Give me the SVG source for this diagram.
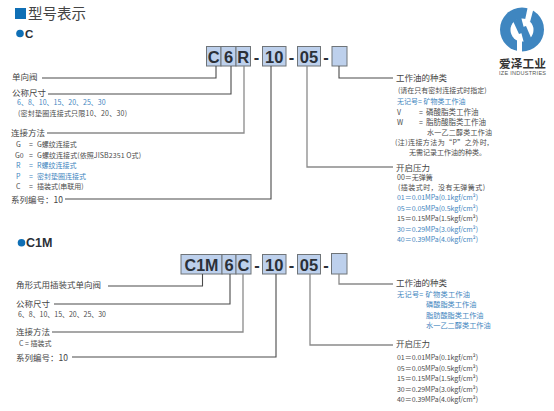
<svg xmlns="http://www.w3.org/2000/svg" width="554" height="411" viewBox="0 0 554 411">
<style>
text{font-family:"Noto Sans CJK SC","Noto Sans CJK JP","Liberation Sans",sans-serif;fill:#3a3a3a}
.s{font-size:7px;fill:#4c4c4c}
.m{font-size:7.5px;fill:#4c4c4c}
.b{font-size:7px;fill:#3f86c0}
.bm{font-size:7.2px;fill:#3f86c0}
.l{font-size:8.5px;fill:#444}
.k{font-family:"Liberation Sans",Arial,sans-serif;font-weight:700;fill:#2b3038;text-anchor:middle;font-size:16.5px}
.box{fill:#bdd0ec;stroke:#6f7478;stroke-width:1}
.c{fill:none;stroke:#4a4a4a;stroke-width:1.1}
.g{stroke:#8a8a8a;stroke-width:1.3}
.h{font-family:"Liberation Sans",Arial,sans-serif;font-weight:700;fill:#2b3038}
</style>
<rect width="554" height="411" fill="#fff"/>
<g id="title"><rect x="15" y="8" width="11" height="11" fill="#0f6fb5"/><text x="28" y="19" font-size="14.500" style="fill:#444">型号表示</text></g>
<g id="head-c"><circle cx="20" cy="33.500" r="3.800" fill="#0f6fb5"/><text class="h" x="25" y="38" font-size="11.500">C</text></g>
<g id="head-c1m"><circle cx="21.500" cy="242.700" r="3.800" fill="#0f6fb5"/><text class="h" x="26" y="247" font-size="12.500">C1M</text></g>
<g id="code-c">
<rect class="box" x="206.500" y="46.500" width="14.500" height="19.500"/><text class="k" x="213.800" y="62.500">C</text>
<rect class="box" x="221" y="46.500" width="15" height="19.500"/><text class="k" x="228.500" y="62.500">6</text>
<rect class="box" x="236" y="46.500" width="14.500" height="19.500"/><text class="k" x="243.300" y="62.500">R</text>
<text class="k" x="256.500" y="62.500">-</text>
<rect class="box" x="262.500" y="46.500" width="23.500" height="19.500"/><text class="k" x="274.300" y="62.500">10</text>
<text class="k" x="291.500" y="62.500">-</text>
<rect class="box" x="297.500" y="46.500" width="23" height="19.500"/><text class="k" x="309" y="62.500">05</text>
<text class="k" x="326" y="62.500">-</text>
<rect class="box" x="332" y="46.500" width="15" height="19.500"/>
</g>
<g id="code-c1m">
<rect class="box" x="181" y="254.500" width="41" height="19.500"/><text class="k" x="201.500" y="270.500" style="font-size:16px">C1M</text>
<rect class="box" x="222" y="254.500" width="14" height="19.500"/><text class="k" x="229" y="270.500">6</text>
<rect class="box" x="236" y="254.500" width="15" height="19.500"/><text class="k" x="243.500" y="270.500">C</text>
<text class="k" x="257" y="270.500">-</text>
<rect class="box" x="262.500" y="254.500" width="23.500" height="19.500"/><text class="k" x="274.300" y="270.500">10</text>
<text class="k" x="291.500" y="270.500">-</text>
<rect class="box" x="297.500" y="254.500" width="23" height="19.500"/><text class="k" x="309" y="270.500">05</text>
<text class="k" x="326" y="270.500">-</text>
<rect class="box" x="331.500" y="253.500" width="15.500" height="20.500"/>
</g>
<g id="connectors">
<path class="c" d="M42 78H216V66"/><path class="c" d="M48 94H231V66"/>
<path class="c g" d="M47 133H244V66"/><path class="c" d="M65 199H271V66"/>
<path class="c" d="M339 66V78H393"/><path class="c g" d="M307 66V167H393"/>
<path class="c" d="M108 286H202.500V274"/><path class="c" d="M54 304H230V274"/>
<path class="c g" d="M52 332H243V274"/><path class="c" d="M72 357H276V274"/>
<path class="c g" d="M339 274V284H393"/><path class="c g" d="M310 274V345H393"/>
</g>
<g id="left-c">
<text class="l" x="12" y="80">单向阀</text><text class="l" x="12" y="96">公称尺寸</text>
<text class="b" x="17" y="105">6、8、10、15、20、25、30</text>
<text class="s" x="18" y="116" textLength="109">(密封垫圈连接式只限10、20、30)</text>
<text class="l" x="11" y="136">连接方法</text>
<text class="s" x="16" y="147">G</text><text class="s" x="29" y="147">=</text><text class="s" x="37" y="147">G螺纹连接式</text>
<text class="s" x="15" y="158">G0</text><text class="s" x="29" y="158">=</text><text class="s" x="37" y="158" textLength="104">G螺纹连接式(依照JISB2351 O式)</text>
<text class="b" x="16" y="168">R</text><text class="b" x="29" y="168">=</text><text class="b" x="37" y="168">R螺纹连接式</text>
<text class="b" x="16" y="179">P</text><text class="b" x="29" y="179">=</text><text class="b" x="37" y="179">密封垫圈连接式</text>
<text class="s" x="16" y="189">C</text><text class="s" x="29" y="189">=</text><text class="s" x="37" y="189">插装式(串联用)</text>
<text class="l" x="11" y="203">系列编号：10</text>
</g>
<g id="right-c">
<text class="l" x="396" y="81">工作油的种类</text>
<text class="s" x="398" y="93">(请在只有密封连接式时指定)</text>
<text class="b" x="397" y="104">无记号= 矿物类工作油</text>
<text class="s" x="397" y="115">V</text><text class="s" x="419" y="115">=</text><text class="m" x="426" y="115">磷酸脂类工作油</text>
<text class="s" x="397" y="125">W</text><text class="s" x="419" y="125">=</text><text class="m" x="426" y="125">脂肪酸脂类工作油</text>
<text class="s" x="427" y="135" textLength="65">水一乙二醇类工作油</text>
<text class="s" x="395" y="145" textLength="94">(注)连接方法为“P”之外时,</text>
<text class="s" x="409" y="155" textLength="77">无需记录工作油的种类。</text>
<text class="l" x="396" y="171">开启压力</text>
<text class="s" x="397" y="180">00＝无弹簧</text>
<text class="s" x="398" y="190" textLength="87">(插装式时，没有无弹簧式)</text>
<text class="b" x="397" y="200" textLength="81">01＝0.01MPa(0.1kgf/cm²)</text>
<text class="b" x="397" y="211" textLength="81">05＝0.05MPa(0.5kgf/cm²)</text>
<text class="s" x="397" y="221" textLength="81">15＝0.15MPa(1.5kgf/cm²)</text>
<text class="b" x="397" y="232" textLength="81">30＝0.29MPa(3.0kgf/cm²)</text>
<text class="b" x="397" y="242" textLength="81">40＝0.39MPa(4.0kgf/cm²)</text>
</g>
<g id="left-c1m">
<text class="l" x="16" y="288">角形式用插装式单向阀</text><text class="l" x="16" y="307">公称尺寸</text>
<text class="s" x="18" y="317" textLength="88">6、8、10、15、20、25、30</text>
<text class="l" x="16" y="335">连接方法</text>
<text class="s" x="19" y="346">C = 插装式</text>
<text class="l" x="16" y="361">系列编号：10</text>
</g>
<g id="right-c1m">
<text class="l" x="396" y="286">工作油的种类</text>
<text class="bm" x="397" y="297" textLength="73">无记号= 矿物类工作油</text>
<text class="bm" x="426" y="307">磷酸脂类工作油</text>
<text class="bm" x="426" y="318">脂肪酸脂类工作油</text>
<text class="bm" x="426" y="328">水一乙二醇类工作油</text>
<text class="l" x="396" y="347">开启压力</text>
<text class="s" x="397" y="360" textLength="81">01＝0.01MPa(0.1kgf/cm²)</text>
<text class="s" x="397" y="371" textLength="81">05＝0.05MPa(0.5kgf/cm²)</text>
<text class="s" x="397" y="381" textLength="81">15＝0.15MPa(1.5kgf/cm²)</text>
<text class="s" x="397" y="392" textLength="81">30＝0.29MPa(3.0kgf/cm²)</text>
<text class="s" x="397" y="402" textLength="81">40＝0.39MPa(4.0kgf/cm²)</text>
</g>
<g id="logo">
<circle cx="522" cy="29.500" r="22" fill="#3f86c0"/>
<circle cx="522" cy="30" r="11.500" fill="#fff"/>
<path d="M513 21L521 17L525 32L519 34Z" fill="#3f86c0"/>
<path d="M532 40L524 43L520 28L526 26Z" fill="#3f86c0"/>
<path d="M528 6L534 7L530 22L525 20Z" fill="#fff"/>
<path d="M517 52L522 53L522 40L517 40Z" fill="#fff"/>
<text x="522.500" y="67.500" font-size="11.700" font-weight="700" text-anchor="middle" style="fill:#333">爱泽工业</text>
<text x="522.500" y="75" font-size="5.500" text-anchor="middle" textLength="47" style='font-family:"Liberation Sans",sans-serif;fill:#555'>IZE INDUSTRIES</text>
</g>
</svg>
